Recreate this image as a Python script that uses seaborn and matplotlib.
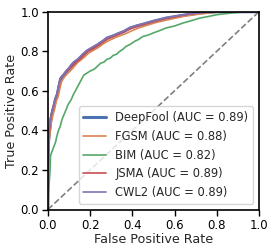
import matplotlib
matplotlib.use("Agg")
import matplotlib.pyplot as plt
import seaborn as sns
import pandas as pd

# ROC curve points (FPR, TPR)
deepfool_fpr = [0.0, 0.0, 0.003, 0.008, 0.013, 0.02, 0.028, 0.036, 0.044, 0.052, 0.06, 0.068, 0.076,
                0.09, 0.10, 0.11, 0.123, 0.135, 0.147, 0.165, 0.186, 0.21, 0.234, 0.26, 0.28, 0.31,
                0.336, 0.36, 0.39, 0.42, 0.455, 0.50, 0.56, 0.64, 0.72, 0.80, 1.0]
deepfool_tpr = [0.0, 0.20, 0.35, 0.40, 0.45, 0.49, 0.52, 0.56, 0.58, 0.62, 0.66, 0.67, 0.68,
                0.70, 0.71, 0.725, 0.74, 0.75, 0.76, 0.78, 0.80, 0.815, 0.83, 0.85, 0.867, 0.878,
                0.89, 0.90, 0.918, 0.928, 0.938, 0.952, 0.968, 0.982, 0.994, 1.0, 1.0]

fgsm_fpr = [0.0, 0.0, 0.004, 0.01, 0.016, 0.024, 0.032, 0.04, 0.048, 0.056, 0.064, 0.072, 0.082,
            0.095, 0.105, 0.118, 0.13, 0.142, 0.155, 0.172, 0.192, 0.215, 0.24, 0.265, 0.29, 0.32,
            0.345, 0.37, 0.40, 0.43, 0.465, 0.51, 0.57, 0.65, 0.73, 0.82, 1.0]
fgsm_tpr = [0.0, 0.18, 0.33, 0.39, 0.44, 0.48, 0.51, 0.55, 0.57, 0.61, 0.645, 0.66, 0.675,
            0.69, 0.70, 0.715, 0.73, 0.745, 0.755, 0.77, 0.79, 0.805, 0.82, 0.84, 0.855, 0.87,
            0.88, 0.89, 0.905, 0.918, 0.93, 0.945, 0.96, 0.978, 0.99, 1.0, 1.0]

bim_fpr = [0.0, 0.0, 0.005, 0.01, 0.012, 0.018, 0.025, 0.036, 0.042, 0.05, 0.058, 0.065, 0.072,
           0.08, 0.088, 0.095, 0.11, 0.12, 0.13, 0.14, 0.15, 0.16, 0.17, 0.185, 0.2, 0.21,
           0.22, 0.235, 0.25, 0.265, 0.28, 0.295, 0.31, 0.325, 0.34, 0.355, 0.37, 0.39, 0.41,
           0.43, 0.45, 0.475, 0.50, 0.53, 0.56, 0.60, 0.64, 0.68, 0.72, 0.76, 0.80, 0.84,
           0.88, 0.94, 1.0]
bim_tpr = [0.0, 0.05, 0.12, 0.20, 0.27, 0.29, 0.31, 0.34, 0.37, 0.40, 0.42, 0.45, 0.47,
           0.49, 0.51, 0.53, 0.555, 0.58, 0.60, 0.62, 0.64, 0.66, 0.68, 0.69, 0.70, 0.705,
           0.71, 0.725, 0.74, 0.745, 0.76, 0.765, 0.78, 0.785, 0.80, 0.81, 0.825, 0.835, 0.85,
           0.86, 0.875, 0.882, 0.893, 0.905, 0.918, 0.928, 0.943, 0.955, 0.968, 0.976, 0.985, 0.99,
           0.995, 1.0, 1.0]

jsma_fpr = [0.0, 0.0, 0.003, 0.008, 0.012, 0.02, 0.027, 0.035, 0.043, 0.05, 0.058, 0.066, 0.075,
            0.088, 0.10, 0.112, 0.125, 0.137, 0.15, 0.168, 0.188, 0.212, 0.236, 0.262, 0.283, 0.312,
            0.338, 0.362, 0.392, 0.422, 0.457, 0.50, 0.56, 0.64, 0.71, 0.79, 1.0]
jsma_tpr = [0.0, 0.22, 0.36, 0.41, 0.46, 0.50, 0.53, 0.56, 0.585, 0.625, 0.66, 0.675, 0.685,
            0.70, 0.71, 0.72, 0.735, 0.748, 0.758, 0.778, 0.80, 0.812, 0.828, 0.848, 0.862, 0.876,
            0.888, 0.90, 0.915, 0.926, 0.937, 0.95, 0.967, 0.983, 0.995, 1.0, 1.0]

cwl2_fpr = [0.0, 0.0, 0.003, 0.007, 0.012, 0.019, 0.027, 0.035, 0.043, 0.051, 0.059, 0.067, 0.075,
            0.088, 0.098, 0.108, 0.12, 0.133, 0.145, 0.163, 0.184, 0.208, 0.232, 0.258, 0.278, 0.308,
            0.334, 0.358, 0.388, 0.418, 0.452, 0.50, 0.56, 0.64, 0.72, 0.80, 1.0]
cwl2_tpr = [0.0, 0.21, 0.36, 0.41, 0.455, 0.495, 0.525, 0.56, 0.585, 0.625, 0.665, 0.675, 0.685,
            0.705, 0.715, 0.73, 0.745, 0.755, 0.765, 0.785, 0.805, 0.82, 0.835, 0.852, 0.868, 0.88,
            0.892, 0.902, 0.92, 0.93, 0.94, 0.954, 0.97, 0.984, 0.995, 1.0, 1.0]

methods = ["DeepFool", "FGSM", "BIM", "JSMA", "CWL2"]
aucs = [0.89, 0.88, 0.82, 0.89, 0.89]
curves = [(deepfool_fpr, deepfool_tpr), (fgsm_fpr, fgsm_tpr), (bim_fpr, bim_tpr),
          (jsma_fpr, jsma_tpr), (cwl2_fpr, cwl2_tpr)]

sns.set_theme(style="ticks", palette="deep")
plt.rcParams["font.family"] = ["DejaVu Sans"]

fig = plt.figure(figsize=(2.74, 2.5), dpi=100)
ax = fig.add_axes([0.175, 0.162, 0.77, 0.791])

colors = sns.color_palette("deep")
for i, (name, auc, (fpr, tpr)) in enumerate(zip(methods, aucs, curves)):
    df = pd.DataFrame({"fpr": fpr, "tpr": tpr})
    sns.lineplot(data=df, x="fpr", y="tpr", ax=ax, sort=False, estimator=None,
                 color=colors[i], lw=2.2 if i == 0 else 1.2,
                 label=f"{name} (AUC = {auc:.2f})")

ax.plot([0, 1], [0, 1], linestyle="--", color="gray", lw=1.2)

ax.set_xlim(0, 1)
ax.set_ylim(0, 1)
ax.set_xticks([0, 0.2, 0.4, 0.6, 0.8, 1.0])
ax.set_yticks([0, 0.2, 0.4, 0.6, 0.8, 1.0])
ax.set_xlabel("False Positive Rate", fontsize=9.2, labelpad=1)
ax.set_ylabel("True Positive Rate", fontsize=9.2, labelpad=2)
ax.tick_params(labelsize=8.5, length=4.5, width=1, pad=2, colors="black")
for s in ax.spines.values():
    s.set_linewidth(1.2)
    s.set_color("black")

ax.legend(loc="lower right", fontsize=8.3, handlelength=2.0, borderaxespad=0.5)

fig.savefig("out.png", dpi=100)
